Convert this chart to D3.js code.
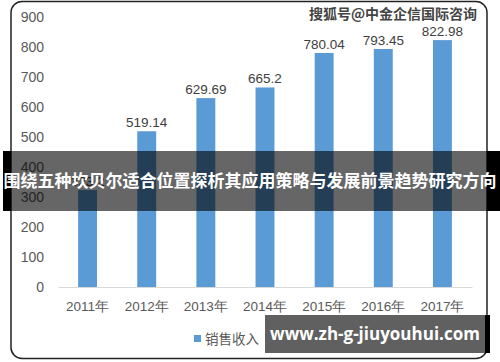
<!DOCTYPE html>
<html>
<head>
<meta charset="utf-8">
<script src="https://cdn.jsdelivr.net/npm/d3@7"></script>
<style>
  body { margin: 0; background: #fff; }
  svg { display: block; font-family: "Liberation Sans", Arial, sans-serif; }
</style>
</head>
<body>
<div id="vis"></div>
<script>
// Constants
const FRAME_WIDTH = 500;
const FRAME_HEIGHT = 362;
const PLOT = { left: 58, right: 472, top: 17, bottom: 287 };

// data
const YEARS = ["2011年", "2012年", "2013年", "2014年", "2015年", "2016年", "2017年"];
const SALES = [323.2, 519.14, 629.69, 665.2, 780.04, 793.45, 822.98];
const SALES_LABELS = ["323.2", "519.14", "629.69", "665.2", "780.04", "793.45", "822.98"];
const Y_TICKS = [0, 100, 200, 300, 400, 500, 600, 700, 800, 900];
const LEGEND_TEXT = "销售收入（亿元）";
const BANNER_TEXT = "围绕五种坎贝尔适合位置探析其应用策略与发展前景趋势研究方向";
const WATERMARK = "搜狐号@中金企信国际咨询";
const SITE_TEXT = "www.zh-g-jiuyouhui.com";

const BAR_COLOR = "#5b9bd5";
const TEXT_COLOR = "#595959";

const FRAME = d3.select("#vis")
    .append("svg")
    .attr("width", FRAME_WIDTH)
    .attr("height", FRAME_HEIGHT);

// chart border
FRAME.append("rect")
    .attr("x", 11).attr("y", 1.5)
    .attr("width", 476).attr("height", 357)
    .attr("rx", 11).attr("ry", 11)
    .attr("fill", "#fff")
    .attr("stroke", "#222")
    .attr("stroke-width", 1.5);

// scales
const X_SCALE = d3.scaleBand()
    .domain(YEARS)
    .range([PLOT.left, PLOT.right])
    .paddingInner(0.68)
    .paddingOuter(0.34);

const Y_SCALE = d3.scaleLinear()
    .domain([0, 900])
    .range([PLOT.bottom, PLOT.top]);

// y axis labels (no line)
const yAxis = FRAME.append("g")
    .attr("transform", "translate(44,0)")
    .call(d3.axisLeft(Y_SCALE).tickValues(Y_TICKS).tickSize(0).tickPadding(0));
yAxis.select(".domain").remove();
yAxis.selectAll("text")
    .attr("fill", TEXT_COLOR)
    .attr("font-size", "14px")
    .attr("font-family", "Liberation Sans, Arial, sans-serif");

// x axis baseline and labels
const xAxis = FRAME.append("g")
    .attr("transform", "translate(0," + PLOT.bottom + ")")
    .call(d3.axisBottom(X_SCALE).tickSize(0).tickPadding(14));
xAxis.select(".domain")
    .attr("stroke", "#d9d9d9")
    .attr("stroke-width", 1);
xAxis.selectAll("text")
    .attr("fill", TEXT_COLOR)
    .attr("font-size", "13.5px")
    .attr("font-family", "Liberation Sans, Arial, sans-serif");

// bars
const bars = FRAME.selectAll(".bar")
    .data(SALES)
    .enter()
    .append("rect")
    .attr("class", "bar")
    .attr("x", (d, i) => X_SCALE(YEARS[i]))
    .attr("y", (d) => Y_SCALE(d))
    .attr("width", X_SCALE.bandwidth())
    .attr("height", (d) => Y_SCALE(0) - Y_SCALE(d))
    .attr("fill", BAR_COLOR);

// value labels
FRAME.selectAll(".val")
    .data(SALES)
    .enter()
    .append("text")
    .attr("class", "val")
    .attr("x", (d, i) => X_SCALE(YEARS[i]) + X_SCALE.bandwidth() / 2)
    .attr("y", (d) => Y_SCALE(d) - 4)
    .attr("text-anchor", "middle")
    .attr("fill", "#404040")
    .attr("font-size", "13.5px")
    .text((d, i) => SALES_LABELS[i]);

// legend
FRAME.append("rect")
    .attr("x", 194).attr("y", 335)
    .attr("width", 7).attr("height", 7)
    .attr("fill", BAR_COLOR);
FRAME.append("text")
    .attr("x", 205).attr("y", 343.5)
    .attr("fill", TEXT_COLOR)
    .attr("font-size", "13.5px")
    .attr("font-family", "Noto Sans CJK SC, sans-serif")
    .text(LEGEND_TEXT);

// watermark
FRAME.append("text")
    .attr("x", 477).attr("y", 19)
    .attr("text-anchor", "end")
    .attr("font-size", "14px")
    .attr("font-weight", "bold")
    .attr("font-family", "Noto Sans CJK SC, sans-serif")
    .attr("fill", "#444")
    .attr("stroke", "#fff")
    .attr("stroke-width", 0.6)
    .attr("paint-order", "stroke")
    .text(WATERMARK);

// overlay banner
FRAME.append("rect")
    .attr("x", 3).attr("y", 151)
    .attr("width", 497).attr("height", 60)
    .attr("fill", "#000")
    .attr("opacity", 0.6);
FRAME.append("rect")
    .attr("x", 3).attr("y", 151).attr("width", 8).attr("height", 60)
    .attr("fill", "#000");
FRAME.append("rect")
    .attr("x", 487).attr("y", 151).attr("width", 13).attr("height", 60)
    .attr("fill", "#000");
FRAME.append("text")
    .attr("x", 250).attr("y", 187)
    .attr("text-anchor", "middle")
    .attr("fill", "#fff")
    .attr("font-size", "17px")
    .attr("font-weight", "bold")
    .attr("font-family", "Noto Sans CJK SC, sans-serif")
    .text(BANNER_TEXT);

// site box
FRAME.append("rect")
    .attr("x", 269).attr("y", 315)
    .attr("width", 221).attr("height", 38)
    .attr("fill", "#000");
FRAME.append("rect")
    .attr("x", 265).attr("y", 315)
    .attr("width", 220).attr("height", 38)
    .attr("fill", "#606060");
FRAME.append("text")
    .attr("x", 375).attr("y", 340)
    .attr("text-anchor", "middle")
    .attr("fill", "#fff")
    .attr("font-size", "17px")
    .attr("font-weight", "bold")
    .attr("font-family", "Open Sans, sans-serif")
    .text(SITE_TEXT);
</script>
</body>
</html>
